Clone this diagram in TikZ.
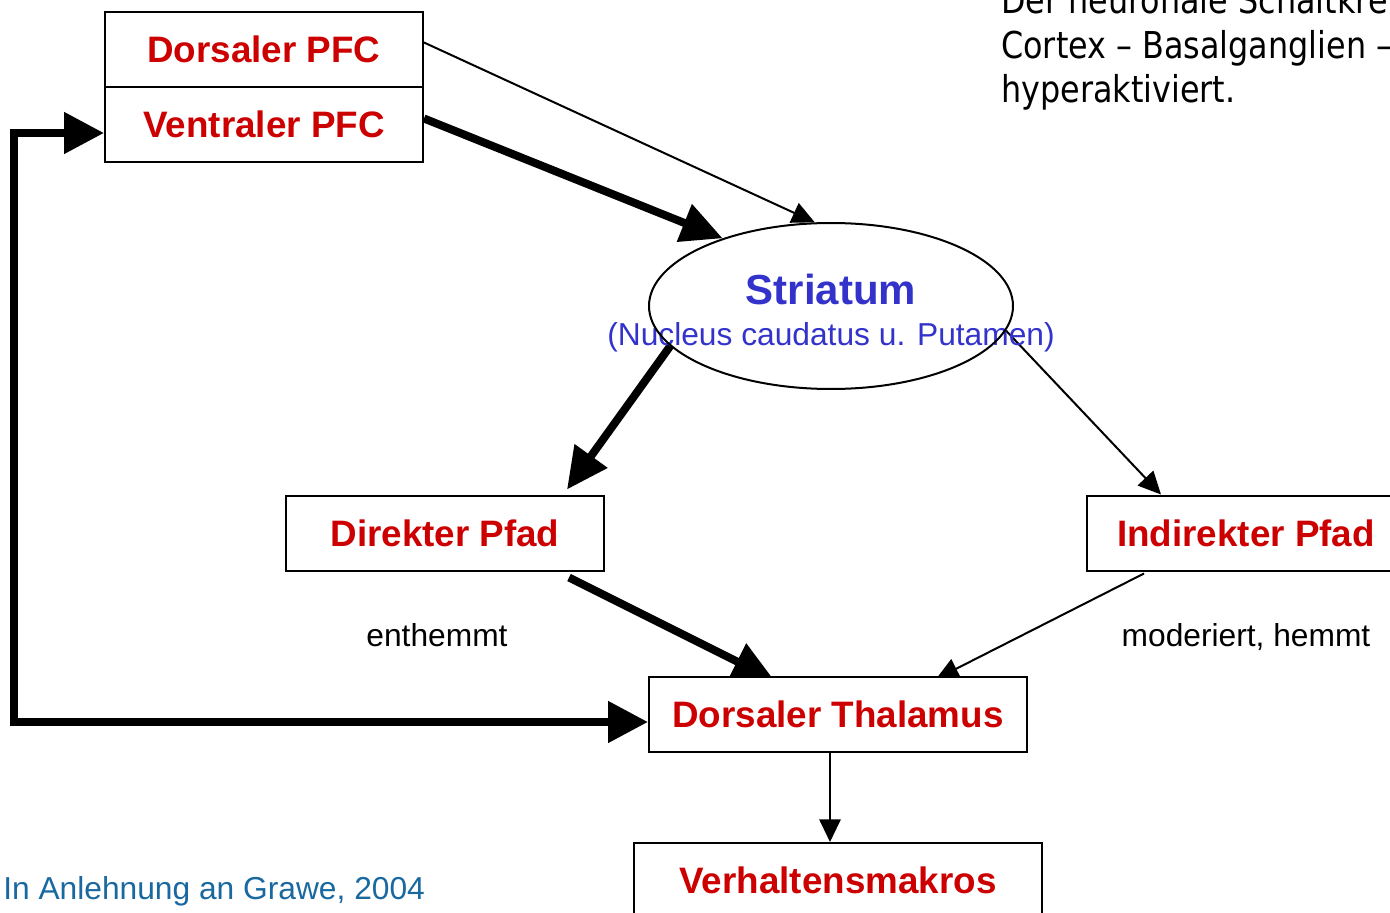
\documentclass[tikz,border=0pt]{standalone}
\usepackage{fontspec}
\setmainfont{Liberation Sans}
\newfontfamily\notefont[FakeStretch=0.86]{DejaVu Sans}
\usetikzlibrary{arrows.meta,backgrounds,calc,shapes.geometric}
\definecolor{boxred}{RGB}{204,0,0}
\definecolor{striblue}{RGB}{51,51,204}
\definecolor{citeblue}{RGB}{25,105,160}
\def\pxu{0.75pt}

\begin{document}
\begin{tikzpicture}[x=0.75pt,y=-0.75pt,
  box/.style={draw, line width=2*\pxu, fill=white, rectangle,
    minimum height=75*\pxu, inner sep=0pt, text=boxred,
    font=\fontsize{27.6pt}{32pt}\selectfont\bfseries},
  plain/.style={inner sep=0pt, font=\fontsize{23.8pt}{28pt}\selectfont},
  note/.style={inner sep=0pt, anchor=base west,
    font=\notefont\fontsize{27.75pt}{29.25pt}\selectfont},
  thinlink/.style={line width=2*\pxu, -{Triangle[length=17pt,width=16pt]}},
  thicklink/.style={line width=8*\pxu, line join=miter,
    -{Triangle[length=31pt,width=29pt]}},
]
\useasboundingbox (0,0) rectangle (1390,913);
\clip (0,0) rectangle (1390,913);

% boxes of the circuit
\node[box, minimum width=318*\pxu] (dpfc) at (264,49.5) {Dorsaler PFC};
\node[box, minimum width=318*\pxu] (vpfc) at (264,124.5) {Ventraler PFC};
\node[box, minimum width=318*\pxu] (direkt) at (445,533) {Direkter Pfad};
\node[box, minimum width=318*\pxu] (indirekt) at (1246,533) {Indirekter Pfad};
\node[box, minimum width=378*\pxu] (thal) at (838,714.5) {Dorsaler Thalamus};
\node[box, minimum width=408*\pxu] (verh) at (838,880.5) {Verhaltensmakros};

% striatum: labels, then the ellipse line over them
\node[inner sep=0pt, text=striblue, font=\fontsize{31.5pt}{36pt}\selectfont\bfseries]
  (strtitle) at (831,289) {Striatum};
\node[plain, text=striblue] (strsub) at (831,337) {(Nucleus caudatus u. Putamen)};
\node[draw, ellipse, line width=2*\pxu, inner sep=0pt,
  minimum width=364*\pxu, minimum height=166*\pxu] (striatum) at (831,306) {};

% pathway labels
\node[plain, anchor=base] (enth) at (437,646) {enthemmt};
\node[plain, anchor=base] (mod) at (1246,646) {moderiert, hemmt};
\node[plain, anchor=base west, text=citeblue] (cite) at (3,899) {In Anlehnung an Grawe, 2004};

% note in the upper right corner
\node[note] (note1) at (1001,14) {Der neuronale Schaltkreis};
\node[note] (note2) at (1001,59) {Cortex – Basalganglien –};
\node[note] (note3) at (1001,103) {hyperaktiviert.};

% end points of the connectors
\coordinate (dpfcout) at ($(dpfc.east)+(0,-7)$);
\coordinate (vpfcout) at ($(vpfc.east)+(0,-6)$);
\coordinate (direktin) at ($(direkt.north east)+(-38,-5)$);
\coordinate (direktout) at ($(direkt.south east)+(-36,6)$);
\coordinate (indirektin) at ($(indirekt.north west)+(75,0)$);
\coordinate (indirektout) at ($(indirekt.south west)+(58,2)$);
\coordinate (thalinA) at ($(thal.north west)+(126,4)$);
\coordinate (thalinB) at ($(thal.north west)+(288,3)$);
\coordinate (thalout) at ($(thal.south)+(-8,0)$);
\coordinate (verhin) at ($(verh.north)+(-8,0)$);
\coordinate (vpfcin) at ($(vpfc.west)+(0,8.5)$);
\coordinate (thalback) at ($(thal.west)+(0,7.5)$);
\coordinate (loopcorner) at (14,722);

\begin{pgfonlayer}{background}
  \draw[thinlink] (dpfcout) -- (striatum.101);
  \draw[thicklink] (vpfcout) -- (striatum.148);
  \draw[thicklink] (striatum.194) -- (direktin);
  \draw[thinlink] (striatum.-8) -- (indirektin);
  \draw[thicklink] (direktout) -- (thalinA);
  \draw[thinlink] (indirektout) -- (thalinB);
  \draw[thinlink] (thalout) -- (verhin);
  \draw[line width=8*\pxu, line join=miter,
    {Triangle[length=30pt,width=30pt]}-{Triangle[length=30pt,width=30pt]}]
    (vpfcin) -| (loopcorner) -- (thalback);
\end{pgfonlayer}
\end{tikzpicture}
\end{document}
